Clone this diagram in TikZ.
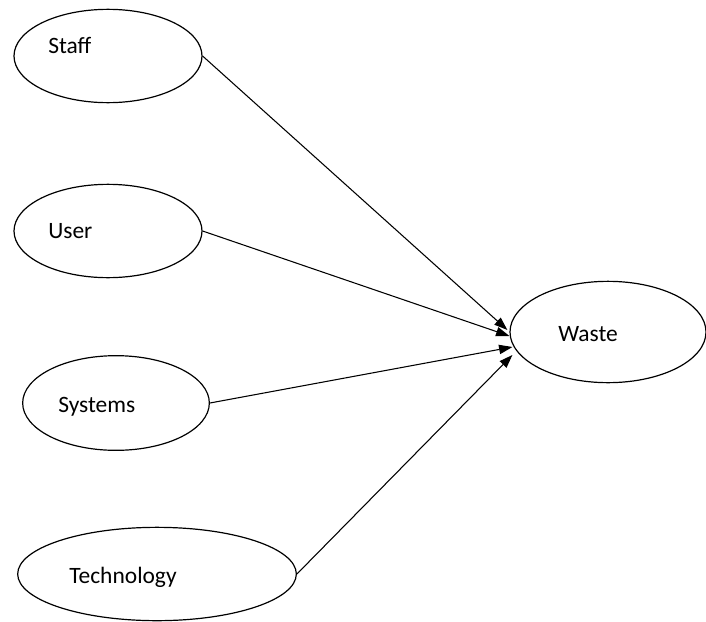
\documentclass[tikz,border=0pt]{standalone}
\usepackage{fontspec}
\setmainfont{Carlito}
\usepackage{tikz}
\usetikzlibrary{shapes.geometric,arrows.meta,calc}

\tikzset{
  factor/.style={draw, ellipse, line width=0.9pt, inner sep=0pt},
  lbl/.style={anchor=base west, inner sep=0pt, font=\fontsize{17.6}{20}\selectfont},
  link/.style={line width=0.8pt, -{Triangle[length=10pt,width=7pt]}}
}

\begin{document}
\begin{tikzpicture}[x=0.75pt,y=0.75pt,yscale=-1]
  \useasboundingbox (0,0) rectangle (706,621);

  % Ellipses
  \node [factor, minimum width=141pt, minimum height=70pt] (staff) at (108,56) {};
  \node [factor, minimum width=141pt, minimum height=70pt] (user) at (108,231) {};
  \node [factor, minimum width=140pt, minimum height=71pt] (systems) at (116,403) {};
  \node [factor, minimum width=209pt, minimum height=70pt] (technology) at (157,574) {};
  \node [factor, minimum width=147pt, minimum height=76pt] (waste) at (608,332) {};

  % Text Nodes
  \node [lbl] (staffText) at (48,53) {Staff};
  \node [lbl] (userText) at (48,238) {User};
  \node [lbl] (systemsText) at (58,412) {Systems};
  \node [lbl] (technologyText) at (69,583) {Technology};
  \node [lbl] (wasteText) at (558,341) {Waste};

  % Arrows
  \draw [link] (staff.east) -- ($(waste.west)+(-2,-2)$);
  \draw [link] (user.east) -- ($(waste.west)+(0,4)$);
  \draw [link] (systems.east) -- ($(waste.west)+(3,15)$);
  \draw [link] (technology.east) -- ($(waste.west)+(3,23)$);
\end{tikzpicture}
\end{document}
